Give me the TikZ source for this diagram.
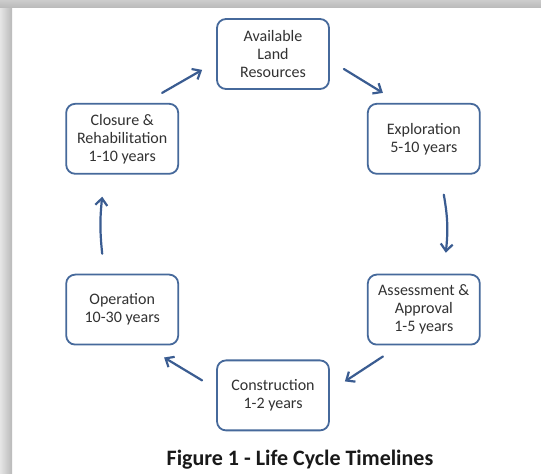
\documentclass[tikz,border=0pt]{standalone}
\usepackage{fontspec}
\setmainfont{Carlito}
\usepackage{tikz}
\usetikzlibrary{positioning,arrows.meta}

\definecolor{boxblue}{RGB}{70,105,155}
\definecolor{arrowblue}{RGB}{58,92,145}
\definecolor{textgray}{RGB}{50,50,50}

\begin{document}
\begin{tikzpicture}[x=1pt, y=1pt,
    stage/.style = {draw=boxblue, line width=1.8pt, rounded corners=9pt,
        minimum width=112pt, minimum height=70pt, inner sep=2pt,
        align=center, text=textgray,
        font=\fontsize{16}{18}\selectfont},
    flow/.style = {draw=arrowblue, line width=2.2pt, line cap=round,
        -{Straight Barb[length=7pt, width=12pt, line width=2.2pt]}},
    node distance = 13pt and 37pt]
    % page and its shadow
    \useasboundingbox (0,0) rectangle (541,474);
    \fill[white] (0,0) rectangle (541,474);
    \shade[left color=gray!20, right color=gray!55] (0,0) rectangle (12,474);
    \shade[top color=gray!40, bottom color=gray!55] (0,474) rectangle (541,466);

    \node[stage] (avail) at (273,420) {Available\\Land\\Resources};
    \node[stage] (expl) [below right = of avail] {Exploration\\5-10 years};
    \node[stage] (clos) [below left = of avail] {Closure \&\\Rehabilitation\\1-10 years};
    \node[stage] (asse) [below = 99pt of expl] {Assessment \&\\Approval\\1-5 years};
    \node[stage] (oper) [below = 99pt of clos] {Operation\\10-30 years};
    \node[stage] (cons) [below right = 14pt and 37pt of oper] {Construction\\1-2 years};

    \node (caption) [below = 15pt of cons, xshift=27pt, font=\fontsize{22}{24}\selectfont\bfseries, text=black!90] {Figure 1 - Life Cycle Timelines};

    \draw[flow] ([shift={(14,-15)}]avail.east) -- ([shift={(16,10)}]expl.north west);
    \draw[flow] ([shift={(20,-20)}]expl.south) to[bend left=8] ([shift={(22,21)}]asse.north);
    \draw[flow] ([shift={(16,-11)}]asse.south west) -- ([shift={(15,14)}]cons.east);
    \draw[flow] ([shift={(-14,15)}]cons.west) -- ([shift={(-15,-12)}]oper.south east);
    \draw[flow] ([shift={(-20,20)}]oper.north) to[bend left=6] ([shift={(-20,-22)}]clos.south);
    \draw[flow] ([shift={(-17,10)}]clos.north east) -- ([shift={(-14,20)}]avail.south west);
\end{tikzpicture}
\end{document}
